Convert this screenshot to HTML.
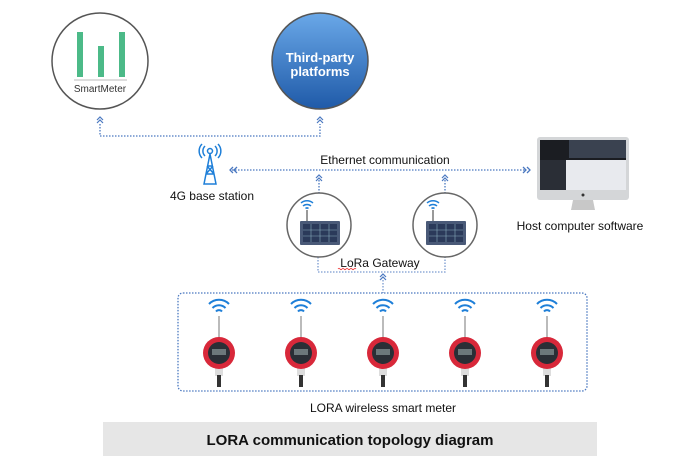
<!DOCTYPE html>
<html><head><meta charset="utf-8"><style>
html,body{margin:0;padding:0;background:#fff;width:700px;height:474px;overflow:hidden}
text{font-family:"Liberation Sans",Arial,sans-serif}
</style></head><body>
<svg width="700" height="474" viewBox="0 0 700 474" xmlns="http://www.w3.org/2000/svg">
<defs>
<linearGradient id="blue" x1="0" y1="0" x2="0" y2="1"><stop offset="0" stop-color="#6aa8e8"/><stop offset="1" stop-color="#1f5aa8"/></linearGradient>
<g id="chev"><path d="M-3,3 L0,0 L3,3 M-3,6 L0,3 L3,6" fill="none" stroke="#4a78c0" stroke-width="1.2"/></g>
<g id="wifi" fill="none" stroke="#1e7fd8" stroke-width="2"><path d="M-10,-3 A14,14 0 0 1 10,-3"/><path d="M-6.5,1 A9,9 0 0 1 6.5,1"/><path d="M-3,4.5 A4,4 0 0 1 3,4.5"/></g>
<g id="swifi" fill="none" stroke="#1e7fd8" stroke-width="1.5"><path d="M-6,-2 A9,9 0 0 1 6,-2"/><path d="M-4,1 A6,6 0 0 1 4,1"/><path d="M-1.5,3.5 A2.5,2.5 0 0 1 1.5,3.5"/></g>
<g id="meter">
<use href="#wifi" y="307"/>
<line x1="0" y1="316" x2="0" y2="340" stroke="#bbb" stroke-width="2"/>
<rect x="-4" y="366" width="8" height="10" fill="#ddd"/>
<rect x="-2" y="375" width="4" height="12" fill="#333"/>
<circle cx="0" cy="353" r="16" fill="#d8283a"/>
<circle cx="0" cy="353" r="11" fill="#2a2f36"/>
<rect x="-7" y="349" width="14" height="6" fill="#9aa" opacity=".6"/>
</g>
<g id="gw">
<circle r="32" fill="#fff" stroke="#666" stroke-width="1.5"/>
<use href="#swifi" x="-12" y="-20"/>
<line x1="-12" y1="-15" x2="-12" y2="-4" stroke="#777" stroke-width="1.5"/>
<rect x="-19" y="-4" width="40" height="24" fill="#4a5a78" rx="1"/>
<rect x="-16" y="-1" width="34" height="18" fill="#2b3a5a"/>
<g stroke="#8ab" stroke-width=".6"><line x1="-16" y1="5" x2="18" y2="5"/><line x1="-16" y1="11" x2="18" y2="11"/><line x1="-8" y1="-1" x2="-8" y2="17"/><line x1="1" y1="-1" x2="1" y2="17"/><line x1="10" y1="-1" x2="10" y2="17"/></g>
</g>
</defs>

<circle cx="100" cy="61" r="48" fill="#fff" stroke="#555" stroke-width="1.5"/>
<rect x="77" y="32" width="6" height="45" fill="#4cba88"/>
<rect x="98" y="46" width="6" height="31" fill="#4cba88"/>
<rect x="119" y="32" width="6" height="45" fill="#4cba88"/>
<line x1="74" y1="80" x2="127" y2="80" stroke="#bbb"/>
<text x="100" y="92" font-size="10" text-anchor="middle" fill="#333">SmartMeter</text>
<circle cx="320" cy="61" r="48" fill="url(#blue)" stroke="#555" stroke-width="1.5"/>
<text x="320" y="62" font-size="13" font-weight="bold" text-anchor="middle" fill="#fff">Third-party</text>
<text x="320" y="76" font-size="13" font-weight="bold" text-anchor="middle" fill="#fff">platforms</text>

<g stroke="#4a78c0" stroke-width="1.3" stroke-dasharray="1.5,1.5" fill="none">
<path d="M100,124 V136 H320 V124"/>
<line x1="232" y1="170" x2="525" y2="170"/>
<line x1="319" y1="180" x2="319" y2="193"/>
<line x1="445" y1="180" x2="445" y2="193"/>
<path d="M318,257 V272 H445 V257" stroke="#7a9ad0"/>
<line x1="383" y1="280" x2="383" y2="293" stroke="#7a9ad0"/>
<rect x="178" y="293" width="409" height="98" rx="5"/>
</g>
<use href="#chev" x="100" y="117"/><use href="#chev" x="320" y="117"/>
<use href="#chev" x="319" y="175"/><use href="#chev" x="445" y="175"/>
<use href="#chev" x="383" y="274"/>
<path d="M233,167 L230,170 L233,173 M237,167 L234,170 L237,173" fill="none" stroke="#4a78c0" stroke-width="1.3"/>
<path d="M523,167 L526,170 L523,173 M527,167 L530,170 L527,173" fill="none" stroke="#4a78c0" stroke-width="1.3"/>

<g stroke="#1e7fd8" stroke-width="1.5" fill="none">
<circle cx="210" cy="151" r="2.5"/>
<path d="M205,146 A7,7 0 0 0 205,156 M215,146 A7,7 0 0 1 215,156 M202,144 A10,10 0 0 0 202,158 M218,144 A10,10 0 0 1 218,158"/>
<path d="M210,154 L204,184 H216 Z M206,174 L214,174 M207,166 L213,166 M206,174 L213,166 M214,174 L207,166"/>
</g>
<text x="212" y="200" font-size="12" text-anchor="middle" fill="#111">4G base station</text>
<text x="385" y="164" font-size="12" text-anchor="middle" fill="#111">Ethernet communication</text>

<use href="#gw" x="319" y="225"/>
<use href="#gw" x="445" y="225"/>
<text x="380" y="267" font-size="12" text-anchor="middle" fill="#111">LoRa Gateway</text>
<path d="M338,269 q1,-1.5 2,0 t2,0 t2,0 t2,0 t2,0 t2,0 t2,0 t2,0 t2,0" fill="none" stroke="#e33" stroke-width=".8"/>

<rect x="537" y="137" width="92" height="63" rx="3" fill="#d4d6d8"/>
<rect x="540" y="140" width="86" height="50" fill="#1b1d22"/>
<rect x="569" y="140" width="57" height="18" fill="#3a4250"/>
<rect x="566" y="160" width="60" height="30" fill="#e8eaee"/>
<rect x="540" y="160" width="26" height="30" fill="#2a2e36"/>
<circle cx="583" cy="195" r="1.5" fill="#333"/>
<path d="M573,200 H593 L595,210 H571 Z" fill="#c8c8c8"/>
<text x="580" y="230" font-size="12" text-anchor="middle" fill="#111">Host computer software</text>

<use href="#meter" x="219"/>
<use href="#meter" x="301"/>
<use href="#meter" x="383"/>
<use href="#meter" x="465"/>
<use href="#meter" x="547"/>
<text x="383" y="412" font-size="12" text-anchor="middle" fill="#111">LORA wireless smart meter</text>

<rect x="103" y="422" width="494" height="34" fill="#e6e6e6"/>
<text x="350" y="445" font-size="15" font-weight="bold" text-anchor="middle" fill="#111">LORA communication topology diagram</text>
</svg>
</body></html>
